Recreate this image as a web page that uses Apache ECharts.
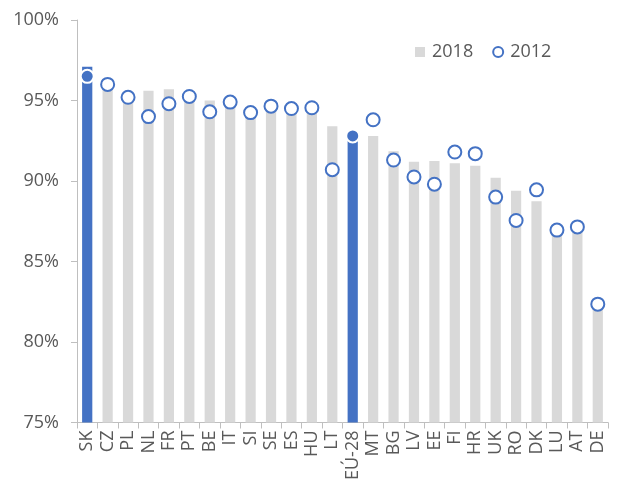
<!DOCTYPE html>
<html>
<head>
<meta charset="utf-8">
<script src="https://cdn.jsdelivr.net/npm/echarts@6/dist/echarts.min.js"></script>
<style>html,body{margin:0;padding:0;background:#fff;}#c{width:618px;height:483px;}</style>
</head>
<body>
<div id="c"></div>
<script>
const categories = ['SK','CZ','PL','NL','FR','PT','BE','IT','SI','SE','ES','HU','LT','EÚ-28','MT','BG','LV','EE','FI','HR','UK','RO','DK','LU','AT','DE'];
const values2018 = [97.1,96.0,95.0,95.6,95.7,95.1,95.0,94.8,94.2,94.5,94.2,94.4,93.4,92.6,92.8,91.85,91.2,91.25,91.1,90.95,90.2,89.4,88.75,86.9,86.8,82.05];
const values2012 = [96.5,96.0,95.2,94.0,94.8,95.25,94.3,94.9,94.25,94.65,94.5,94.55,90.7,92.8,93.8,91.3,90.25,89.8,91.8,91.7,89.0,87.55,89.45,86.95,87.15,82.35];
const highlighted = ['SK','EÚ-28'];
const yTicks = [75,80,85,90,95,100];

const blue = '#4472C4', gray = '#D9D9D9', txt = '#595959', axisCol = '#BFBFBF';
const font = "'Open Sans', 'Liberation Sans', sans-serif";

const barData = values2018.map((v,i) => highlighted.includes(categories[i]) ? {value:v, itemStyle:{color:blue}} : v);
const dotData = values2012.map((v,i) => highlighted.includes(categories[i]) ? {value:v, itemStyle:{color:blue, borderColor:'#fff'}} : v);

const chart = echarts.init(document.getElementById('c'), null, {renderer:'canvas'});
chart.setOption({
  animation:false,
  backgroundColor:'#fff',
  grid:{left:77, right:10, top:20, bottom:60, containLabel:false},
  legend:{
    left:410, top:38, itemGap:19, itemWidth:10, itemHeight:10,
    textStyle:{color:txt, fontSize:18, fontFamily:font, padding:[0,0,0,2]},
    data:[{name:'2018', icon:'rect'},{name:'2012', icon:'circle'}]
  },
  xAxis:{
    type:'category', data:categories, boundaryGap:true,
    axisLine:{lineStyle:{color:axisCol, width:1}},
    axisTick:{show:true, length:6, alignWithLabel:false, lineStyle:{color:axisCol}},
    axisLabel:{rotate:90, interval:0, color:txt, fontSize:18, fontFamily:font, margin:8}
  },
  yAxis:{
    type:'value', min:yTicks[0], max:yTicks[yTicks.length-1], interval:5,
    axisLine:{show:true, lineStyle:{color:axisCol, width:1}},
    axisTick:{show:true, length:6, lineStyle:{color:axisCol}},
    splitLine:{show:false},
    axisLabel:{formatter:'{value}%', color:txt, fontSize:18, fontFamily:font, margin:18}
  },
  series:[
    {name:'2018', type:'bar', data:barData, barWidth:'50%', itemStyle:{color:gray}, z:2},
    {name:'2012', type:'scatter', data:dotData, symbol:'circle', symbolSize:13,
     itemStyle:{color:'#fff', borderColor:blue, borderWidth:2, opacity:1}, z:3}
  ]
});
</script>
</body>
</html>
